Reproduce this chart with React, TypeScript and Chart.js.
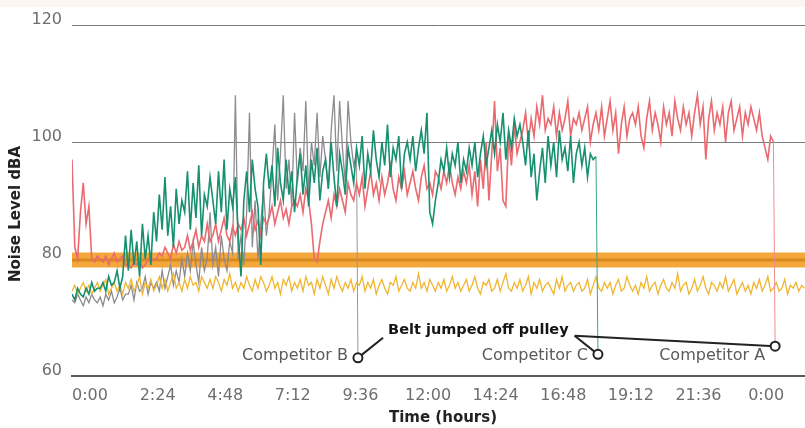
import React, { useEffect, useRef } from "react";
import { Chart, registerables } from "chart.js";

Chart.register(...registerables);

// ---------- data ----------
const STEP_HOURS = 0.1;

const tickHours = [0, 2.4, 4.8, 7.2, 9.6, 12, 14.4, 16.8, 19.2, 21.6, 24];
const tickLabels = ["0:00", "2:24", "4:48", "7:12", "9:36", "12:00", "14:24", "16:48", "19:12", "21:36", "0:00"];
const yTickValues = [60, 80, 100, 120];

// Competitor A (red)
const competitorA = [
  97, 82, 80, 88, 93, 86, 89, 80, 79.5, 80.5,
  80, 79.5, 80.5, 79, 80, 81, 79.5, 80, 80.5, 79,
  79, 78.5, 79.5, 79, 80, 78.5, 79, 80, 79.5, 80,
  80, 81, 80.5, 82, 81, 80, 82.5, 81, 83, 81.5,
  82, 84, 81.5, 83, 85, 82, 84, 83, 86, 83,
  84, 86, 83, 85, 87, 84, 83, 85.5, 84, 86,
  85, 87, 84, 86, 88, 85, 86.5, 84, 87, 86,
  87, 89, 86, 88, 90, 87, 88.5, 86, 89, 90,
  89, 91, 88, 92, 90, 86, 80, 79.5, 83, 86,
  88, 90, 87, 91, 89, 92, 90, 88, 93, 91,
  90, 93, 91, 94, 89, 92, 95, 91, 93, 90,
  94, 91, 93, 96, 92, 90, 94, 92, 95, 91,
  93, 95, 92, 90, 94, 96, 92, 93, 91, 95,
  94, 92, 95, 93, 96, 93, 91, 94, 92, 95,
  93, 96, 91, 95, 89, 97, 92, 100, 90, 98,
  107, 95, 99, 90, 89, 101, 96, 103, 98, 100,
  102, 105, 100, 104, 101, 106, 103, 108, 102, 104,
  103, 106, 101, 105, 102, 104, 107, 101, 104, 103,
  105, 102, 104, 106, 100, 103, 105, 102, 106, 101,
  104, 107, 102, 105, 98, 103, 106, 101, 104, 105,
  103, 106, 101, 99, 104, 107, 102, 105, 103, 100,
  106, 103, 105, 101, 107, 104, 102, 106, 103, 105,
  101, 105, 108, 103, 106, 97, 104, 107, 102, 105,
  103, 106, 100, 105, 107, 102, 104, 106, 101, 105,
  103, 106, 104, 102, 105, 101, 99, 97, 101, 100,
];

// Competitor B (grey)
const competitorB = [
  73, 72.5, 74, 73, 72, 73.5, 72.5, 74, 73, 72.5,
  73.5, 72, 74, 73, 74.5, 72.5, 73.5, 75, 73, 74,
  74, 75.5, 73, 76, 74.5, 75, 77, 74, 76, 75,
  76, 74.5, 78, 75, 77, 79, 75.5, 78, 76, 80,
  77, 81, 78, 83, 79, 76, 82, 78, 80, 88,
  79, 82, 77, 84, 80, 78, 83, 81, 108, 80,
  84, 79, 88, 105, 82, 90, 80, 86, 92, 84,
  88, 95, 103, 90, 98, 108, 92, 97, 89, 105,
  93, 99, 95, 107, 91, 100, 96, 105, 94, 101,
  97, 92, 102, 108, 95, 107, 99, 93, 107, 100,
  96, 98,
];

// Competitor C (green)
const competitorC = [
  74, 73, 75, 74, 73.5, 75, 74, 76, 74.5, 75,
  75, 76, 74.5, 77, 75.5, 76, 78, 75, 77, 84,
  78, 85, 79, 83, 77, 86, 80, 84, 79, 88,
  83, 91, 85, 94, 84, 89, 82, 92, 86, 90,
  88, 95, 85, 93, 87, 96, 84, 91, 89, 94,
  90, 86, 95, 88, 97, 85, 92, 89, 94, 84,
  77, 90, 95, 88, 97, 92, 89, 79, 93, 98,
  92, 96, 89, 99, 93, 90, 97, 91, 95, 88,
  94, 98, 91, 96, 89, 97, 93, 99, 90, 95,
  97, 92, 100, 94, 89, 98, 95, 91, 99, 96,
  93, 99, 96, 101, 92, 98, 95, 102, 97, 94,
  100, 96, 103, 94, 99, 97, 101, 92, 98, 100,
  97, 101, 95, 99, 102, 98, 105, 88, 86, 90,
  93, 97, 95, 99, 94, 98, 96, 100, 93, 97,
  95, 99, 96, 100, 94, 98, 101, 96, 99, 102,
  98, 103, 100, 105, 97, 102, 99, 104, 101, 103,
  100, 96, 102, 94, 98, 90, 95, 99, 93, 101,
  96, 100, 94, 102, 97, 99, 95, 101, 93, 98,
  100, 96, 99, 94, 98, 97, 97.5,
];

// Our belt (yellow)
const ourBelt = [
  74.5, 75.5, 74, 75, 76, 74.5, 75.5, 74, 75, 76,
  74.5, 75.5, 76.5, 74, 75, 76, 74.5, 75.5, 74, 76,
  75, 76.5, 74.5, 75.5, 77, 74, 76, 75, 76.5, 74.5,
  75.5, 77, 75, 76.5, 74.5, 76, 77.5, 75, 76, 74.5,
  76.5, 75, 77, 75.5, 76, 74.5, 77, 76, 75, 76.5,
  75, 77, 76, 74.5, 76.5, 75.5, 77.5, 75, 76, 74.5,
  76, 75, 77, 75.5, 74.5, 76.5, 75, 77, 76, 74.5,
  75.5, 77, 75, 76, 74, 76.5, 75.5, 77, 74.5, 76,
  75, 76.5, 74.5, 77, 75.5, 76, 74, 76.5, 75, 77,
  75.5, 74, 76.5, 75, 77, 75.5, 74.5, 76, 75, 76.5,
  74.5, 76, 75.5, 77, 74.5, 76, 75, 76.5, 74, 75.5,
  76.5, 75, 74, 76, 75.5, 77, 74.5, 75.5, 76.5, 75,
  74.5, 76, 75, 77.5, 75, 76, 74.5, 76.5, 75.5, 74.5,
  76, 75, 76.5, 74.5, 75.5, 77, 75, 76, 74.5, 75.5,
  76.5, 74.5, 75.5, 77, 75, 74, 76, 75.5, 76.5, 74.5,
  75, 76.5, 74.5, 76, 77.5, 75, 74.5, 76, 75, 76.5,
  74.5, 75.5, 77, 74, 76, 75, 76.5, 74.5, 75.5, 76,
  75, 74, 76.5, 75, 77, 74.5, 75.5, 76, 74.5, 75.5,
  76, 74.5, 75, 76.5, 74, 75.5, 77, 75, 74.5, 76,
  75, 76, 74, 75.5, 76.5, 74.5, 75, 77, 75.5, 74.5,
  75.5, 74, 76, 75, 77, 74.5, 75.5, 76, 74, 75.5,
  76.5, 75, 74.5, 76, 75, 77.5, 74.5, 75.5, 76, 74,
  75, 76.5, 74.5, 75.5, 77, 75, 74, 76, 75.5, 74.5,
  76, 75, 77, 74.5, 75.5, 76.5, 74, 75, 76, 74.5,
  75.5, 74, 76, 75, 76.5, 74.5, 75.5, 77, 74.5, 75,
  76, 74.5, 75, 76.5, 74, 75.5, 75, 76, 74.5, 75.5,
  75,
];

// Target band (orange)
const bandHours = [0, 26.02];
const bandLevel = [79.85, 79.85];

// Failure points (belt jumped off pulley)
const competitorNames = ["Competitor B", "Competitor C", "Competitor A"];
const dropHours = [10.15, 18.67, 24.96];
const dropValues = [63.1, 63.7, 65.1];
const nameLabelValue = 63.42;
const calloutText = "Belt jumped off pulley";
const calloutHour = 11.22;
const calloutValue = 67.9;

const X_MAX = 26.02;

// ---------- helpers ----------
function toPoints(values: number[], dropHour?: number, dropValue?: number) {
  const pts = values.map((v, i) => ({ x: +(i * STEP_HOURS).toFixed(2), y: v }));
  if (dropHour !== undefined && dropValue !== undefined) pts.push({ x: dropHour, y: dropValue });
  return pts;
}

function dropSegment(lastIndex: number, dropColor: string) {
  return {
    borderWidth: (c: any) => (c.p1DataIndex === lastIndex ? 1 : undefined),
    borderColor: (c: any) => (c.p1DataIndex === lastIndex ? dropColor : undefined),
  };
}

const annotationPlugin = {
  id: "beltAnnotations",
  beforeDraw(chart: any) {
    const { ctx } = chart;
    ctx.save();
    ctx.fillStyle = "#fcf6f2";
    ctx.fillRect(0, 0, chart.width, 7);
    ctx.restore();
  },
  afterDatasetsDraw(chart: any) {
    const { ctx } = chart;
    const xs = chart.scales.x;
    const ys = chart.scales.y;
    ctx.save();

    // competitor labels
    ctx.font = '16px "DejaVu Sans"';
    ctx.fillStyle = "#5a5a5a";
    ctx.textAlign = "right";
    ctx.textBaseline = "middle";
    const labelY = ys.getPixelForValue(nameLabelValue);
    competitorNames.forEach((name, i) => {
      const cx = xs.getPixelForValue(dropHours[i]);
      ctx.fillText(name, cx - 10, labelY);
    });

    // callout text
    ctx.font = 'bold 14.5px "DejaVu Sans"';
    ctx.fillStyle = "#141414";
    ctx.textAlign = "left";
    const tx = xs.getPixelForValue(calloutHour);
    const ty = ys.getPixelForValue(calloutValue);
    ctx.fillText(calloutText, tx, ty);
    const tw = ctx.measureText(calloutText).width;

    // leaders
    ctx.strokeStyle = "#222";
    ctx.lineWidth = 2;
    const circles = dropHours.map((h, i) => ({
      x: xs.getPixelForValue(h),
      y: ys.getPixelForValue(dropValues[i]),
    }));
    ctx.beginPath();
    ctx.moveTo(tx - 5, ty + 8);
    ctx.lineTo(circles[0].x, circles[0].y);
    ctx.stroke();
    for (let i = 1; i < circles.length; i++) {
      ctx.beginPath();
      ctx.moveTo(tx + tw + 6, ty + 6);
      ctx.lineTo(circles[i].x, circles[i].y);
      ctx.stroke();
    }

    // circles
    circles.forEach((c) => {
      ctx.beginPath();
      ctx.arc(c.x, c.y, 4.5, 0, Math.PI * 2);
      ctx.fillStyle = "#fff";
      ctx.fill();
      ctx.lineWidth = 2;
      ctx.strokeStyle = "#222";
      ctx.stroke();
    });

    // axis titles
    ctx.fillStyle = "#222";
    ctx.font = 'bold 15px "DejaVu Sans"';
    ctx.textAlign = "center";
    ctx.textBaseline = "middle";
    ctx.fillText("Time (hours)", 443, 418);
    ctx.save();
    ctx.translate(16, 214);
    ctx.rotate(-Math.PI / 2);
    ctx.fillText("Noise Level dBA", 0, 0);
    ctx.restore();

    ctx.restore();
  },
};

export default function App() {
  const ref = useRef<HTMLCanvasElement>(null);

  useEffect(() => {
    if (!ref.current) return;
    const lineBase = {
      pointRadius: 0,
      tension: 0,
      fill: false,
      borderWidth: 1.6,
      borderJoinStyle: "miter",
    };
    const chart = new Chart(ref.current, {
      type: "line",
      data: {
        datasets: [
          {
            ...lineBase, label: "Competitor C",
            data: toPoints(competitorC, dropHours[1], dropValues[1]),
            borderColor: "#17906f", order: 1,
            segment: dropSegment(competitorC.length, "#3aa585"),
          },
          {
            ...lineBase, label: "Competitor A",
            data: toPoints(competitorA, dropHours[2], dropValues[2]),
            borderColor: "#ea6a70", order: 2,
            segment: dropSegment(competitorA.length, "#f08c92"),
          },
          { ...lineBase, label: "Our belt", data: toPoints(ourBelt), borderColor: "#f0b530", borderWidth: 1.3, order: 3 },
          {
            ...lineBase, label: "Competitor B",
            data: toPoints(competitorB, dropHours[0], dropValues[0]),
            borderColor: "#8e8a8e", borderWidth: 1.3, order: 4,
            segment: dropSegment(competitorB.length, "#9a979a"),
          },
          { ...lineBase, label: "Band centre", data: bandHours.map((h, i) => ({ x: h, y: bandLevel[i] })), borderColor: "#d98a1e", borderWidth: 3, order: 5 },
          { ...lineBase, label: "Band", data: bandHours.map((h, i) => ({ x: h, y: bandLevel[i] })), borderColor: "#f4a73a", borderWidth: 15, borderCapStyle: "butt", order: 6 },
        ] as any,
      },
      options: {
        responsive: false,
        devicePixelRatio: 1,
        animation: false,
        layout: { padding: { top: 25, left: 0, right: 0, bottom: 0 } },
        plugins: { legend: { display: false }, tooltip: { enabled: false } },
        scales: {
          x: {
            type: "linear",
            min: 0,
            max: X_MAX,
            afterFit: (s: any) => { s.height = 52; },
            afterBuildTicks: (s: any) => { s.ticks = tickHours.map((v) => ({ value: v })); },
            grid: { display: false, drawTicks: false },
            border: { display: true, color: "#5c5c5c", width: 2 },
            ticks: {
              autoSkip: false,
              maxRotation: 0,
              padding: 10,
              labelOffset: 18,
              color: "#6e6e6e",
              font: { family: '"DejaVu Sans"', size: 16 },
              callback: (v: any) => {
                const idx = tickHours.findIndex((t) => Math.abs(t - Number(v)) < 1e-6);
                return idx >= 0 ? tickLabels[idx] : "";
              },
            },
          },
          y: {
            min: 60,
            max: 120,
            afterFit: (s: any) => { s.width = 72; },
            afterBuildTicks: (s: any) => { s.ticks = yTickValues.map((v) => ({ value: v })); },
            grid: {
              drawTicks: false,
              color: (c: any) => (c.tick && c.tick.value === 60 ? "rgba(0,0,0,0)" : "#7a7a7a"),
              lineWidth: 1,
            },
            border: { display: false },
            ticks: {
              padding: 10,
              labelOffset: -5,
              color: "#6e6e6e",
              font: { family: '"DejaVu Sans"', size: 16 },
            },
          },
        },
      } as any,
      plugins: [annotationPlugin],
    });
    return () => chart.destroy();
  }, []);

  return (
    <div style={{ position: "fixed", left: 0, top: 0, width: 805, height: 428, background: "#fff" }}>
      <canvas ref={ref} width={805} height={428} style={{ display: "block", width: 805, height: 428 }} />
    </div>
  );
}
